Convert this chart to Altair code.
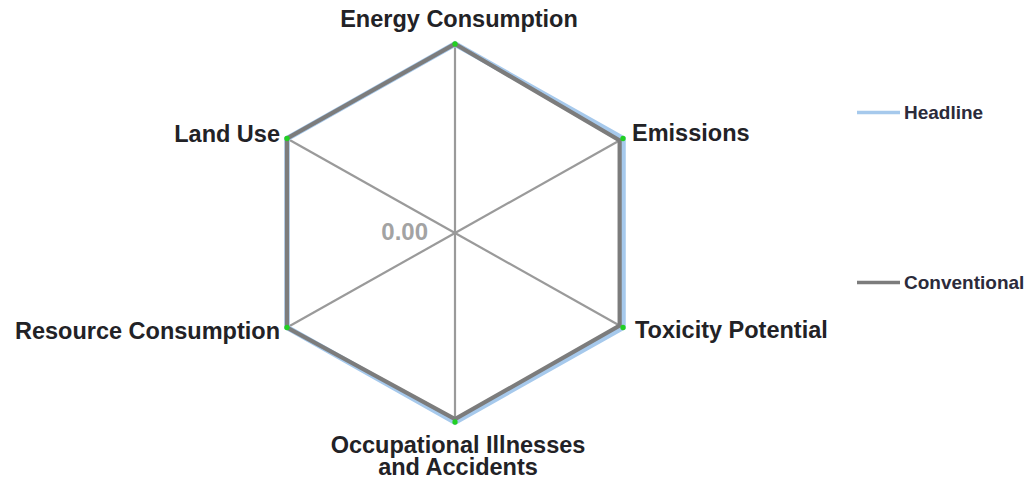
import math
import pandas as pd
import altair as alt

# ---- data ----
categories = ["Energy Consumption", "Emissions", "Toxicity Potential",
              "Occupational Illnesses\nand Accidents", "Resource Consumption", "Land Use"]
series_names = ["Headline", "Conventional"]
headline = [1.0, 1.0, 1.0, 1.0, 1.0, 1.0]
conventional = [1.0, 0.98, 0.98, 0.985, 1.0, 1.0]
axis_max = 1.0
center_tick = ["0.00"]

rows = []
for s, vals in zip(series_names, [headline, conventional]):
    for i, c in enumerate(categories):
        rows.append({"category": c, "idx": i, "series": s, "value": vals[i]})
df = pd.DataFrame(rows)
spokes = pd.DataFrame({"category": categories, "idx": list(range(len(categories))),
                       "r": [axis_max] * len(categories)})
center_df = pd.DataFrame({"label": center_tick, "r": [0.0]})

n = len(categories)
ang = f"datum.idx * 2 * PI / {n}"

RX, RY = 194.0, 189.0
W, H = 1019, 468
cx, cy = 447.0, 225.0
xs = alt.Scale(domain=[-cx / RX, (W - cx) / RX], nice=False, zero=False)
ys = alt.Scale(domain=[-(H - cy) / RY, cy / RY], nice=False, zero=False)

X = lambda f: alt.X(f, type="quantitative", scale=xs, axis=None)
Y = lambda f: alt.Y(f, type="quantitative", scale=ys, axis=None)

base_sp = alt.Chart(spokes).transform_calculate(
    x0="0", y0="0",
    x1=f"datum.r * sin({ang})", y1=f"datum.r * cos({ang})")

spoke_layer = base_sp.mark_rule(color="#9a9a9a", strokeWidth=2.2).encode(
    x=X("x0"), y=Y("y0"), x2="x1:Q", y2="y1:Q")

base = alt.Chart(df).transform_calculate(
    px=f"datum.value * sin({ang})", py=f"datum.value * cos({ang})")

color = alt.Color("series:N",
                  scale=alt.Scale(domain=series_names, range=["#a6c9ec", "#7c7c7c"]),
                  sort=series_names,
                  legend=alt.Legend(title=None, orient="none", legendX=847, legendY=81,
                                    symbolType="stroke", symbolSize=1849,
                                    symbolStrokeWidth=3.5, rowPadding=136,
                                    labelFont="Liberation Sans", labelFontSize=19,
                                    labelFontWeight="bold", labelColor="#2b2b3b",
                                    labelOffset=2, labelLimit=300))

head_line = base.transform_filter(alt.datum.series == "Headline").mark_line(
    interpolate="linear-closed", strokeWidth=5.5, strokeJoin="miter").encode(
    x=X("px"), y=Y("py"), order="idx:Q", color=color)
conv_line = base.transform_filter(alt.datum.series == "Conventional").mark_line(
    interpolate="linear-closed", strokeWidth=4.2, strokeJoin="miter").encode(
    x=X("px"), y=Y("py"), order="idx:Q", color=color)
dots = base.transform_filter(alt.datum.series == "Headline").mark_point(
    filled=True, size=28, color="#22d022", opacity=1).encode(x=X("px"), y=Y("py"))

label_style = {
    0: dict(align="center", dx=4, dy=-17),
    1: dict(align="left", dx=9, dy=2),
    2: dict(align="left", dx=12, dy=10),
    3: dict(align="center", dx=3, dy=31),
    4: dict(align="right", dx=-7, dy=11),
    5: dict(align="right", dx=-7, dy=3),
}
label_layers = []
for i in range(n):
    st = label_style[i]
    label_layers.append(
        base_sp.transform_filter(alt.datum.idx == i).mark_text(
            baseline="alphabetic", font="Liberation Sans", fontSize=23.5,
            fontWeight="bold", color="#222226", lineBreak="\n", lineHeight=21.5,
            **st).encode(x=X("x1"), y=Y("y1"), text="category:N"))

center_label = alt.Chart(center_df).mark_text(
    align="right", baseline="alphabetic", dx=-27, dy=7, font="Liberation Sans",
    fontSize=24, fontWeight="bold", color="#a3a3a3").encode(
    x=X("r"), y=Y("r"), text="label:N")

chart = alt.layer(spoke_layer, head_line, conv_line, dots, center_label, *label_layers).properties(
    width=W, height=H, padding=0, autosize=alt.AutoSizeParams(type="none"),
    background="white").configure_view(stroke=None)

chart.save("out.html", embed_options={"renderer": "svg", "actions": False})
